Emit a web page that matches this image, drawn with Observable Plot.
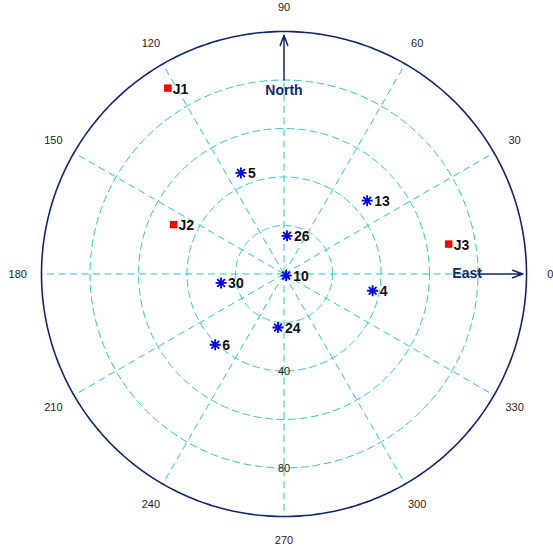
<!DOCTYPE html>
<html><head><meta charset="utf-8">
<script src="https://cdn.jsdelivr.net/npm/d3@7"></script>
<script src="https://cdn.jsdelivr.net/npm/@observablehq/plot@0.6"></script>
<style>html,body{margin:0;padding:0;background:#fff;} svg{display:block}</style>
</head><body><div id="chart"></div>
<script>
// rings (radial units, outer boundary = 100)
const ringValues = [20, 40, 60, 80];
const outerRadius = 100;
const ringLabelValues = [40, 80];
const spokeAngles = [0, 30, 60, 90, 120, 150, 180, 210, 240, 270, 300, 330];
const angleLabels = ["0", "30", "60", "90", "120", "150", "180", "210", "240", "270", "300", "330"];

// satellites (blue asterisks)
const satIds = ["10", "26", "5", "13", "30", "4", "24", "6"];
const satAzimuth = [323, 85.5, 113.1, 41.4, 188.1, 349.3, 263.6, 225.8];
const satRadius = [1.1, 15.8, 45.3, 45.7, 26.2, 37.2, 22.2, 40.7];

// jammers (red squares)
const jamIds = ["J1", "J2", "J3"];
const jamAzimuth = [122, 155.9, 10.3];
const jamRadius = [90.4, 49.9, 69.0];

const navy = "#10266e";
const cyan = "#2ec6c6";
const font = "Liberation Sans, Arial, Helvetica, sans-serif";

const rad = d => d * Math.PI / 180;
const px = (r, a) => r * Math.cos(rad(a));
const py = (r, a) => r * Math.sin(rad(a));
const circlePts = r => d3.range(0, 361, 1).map(a => ({ring: r, x: px(r, a), y: py(r, a)}));

const ringPts = ringValues.flatMap(circlePts);
const outerPts = circlePts(outerRadius);
const arrowAngles = [0, 90];
const spokes = spokeAngles.map(a => ({a, r: arrowAngles.includes(a) ? 80 : outerRadius}));
const arrows = arrowAngles.map(a => ({a}));
const angleLbl = spokeAngles.map((a, i) => ({a, label: angleLabels[i]}));
const sats = satIds.map((id, i) => ({id, x: px(satRadius[i], satAzimuth[i]), y: py(satRadius[i], satAzimuth[i])}));
const jams = jamIds.map((id, i) => ({id, x: px(jamRadius[i], jamAzimuth[i]), y: py(jamRadius[i], jamAzimuth[i])}));

const asterisk = {
  draw(ctx, size) {
    const r = Math.sqrt(size / Math.PI);
    for (let k = 0; k < 4; k++) {
      const t = k * Math.PI / 4;
      const dx = r * Math.cos(t), dy = r * Math.sin(t);
      ctx.moveTo(-dx, -dy);
      ctx.lineTo(dx, dy);
    }
  }
};

const plot = Plot.plot({
  width: 553,
  height: 553,
  marginLeft: 41,
  marginRight: 27,
  marginTop: 31,
  marginBottom: 37,
  x: {domain: [-100, 100], axis: null},
  y: {domain: [-100, 100], axis: null},
  style: {background: "#fff", fontFamily: font, overflow: "visible"},
  marks: [
    Plot.line(ringPts, {x: "x", y: "y", z: "ring", stroke: cyan, strokeWidth: 1, strokeDasharray: "7,4.5"}),
    Plot.link(spokes, {x1: 0, y1: 0, x2: d => px(d.r, d.a), y2: d => py(d.r, d.a), stroke: cyan, strokeWidth: 1, strokeDasharray: "7,4.5"}),
    Plot.line(outerPts, {x: "x", y: "y", stroke: navy, strokeWidth: 1.6}),
    Plot.arrow(arrows, {x1: d => px(80, d.a), y1: d => py(80, d.a), x2: d => px(98.5, d.a), y2: d => py(98.5, d.a), stroke: navy, strokeWidth: 1.5, headLength: 11, headAngle: 40}),
    Plot.text(["North"], {x: 0, y: 75.5, text: d => d, fill: navy, fontWeight: "bold", fontSize: 14, fontFamily: font}),
    Plot.text(["East"], {x: 75.5, y: 0, text: d => d, fill: navy, fontWeight: "bold", fontSize: 14, fontFamily: font}),
    Plot.text(ringLabelValues, {x: 0, y: d => -d, text: d => String(d), fill: "#222", fontSize: 11, fontFamily: font}),
    Plot.text(angleLbl, {x: d => px(109.8, d.a), y: d => py(109.8, d.a), text: "label", fill: "#222", fontSize: 11, fontFamily: font}),
    Plot.dot(jams, {x: "x", y: "y", symbol: "square", r: 4.2, fill: "#ff0000", stroke: null}),
    Plot.text(jams, {x: "x", y: "y", text: "id", dx: 5, dy: 1, textAnchor: "start", fontWeight: "bold", fontSize: 14, fill: "#111", fontFamily: font}),
    Plot.dot(sats, {x: "x", y: "y", symbol: asterisk, r: 5.5, stroke: "#0000ff", strokeWidth: 1.8, fill: "none"}),
    Plot.text(sats, {x: "x", y: "y", text: "id", dx: 7, dy: 1, textAnchor: "start", fontWeight: "bold", fontSize: 14, fill: "#111", fontFamily: font})
  ]
});
document.getElementById("chart").appendChild(plot);
</script>
</body></html>
